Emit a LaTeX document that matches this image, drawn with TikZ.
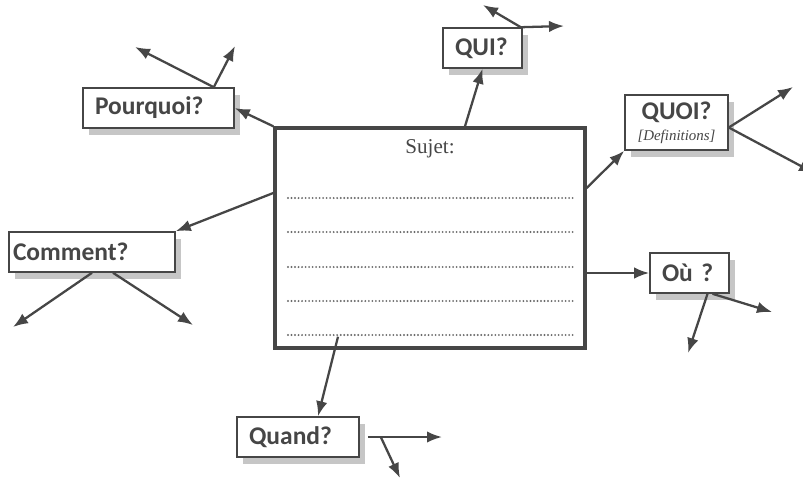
\documentclass[tikz,border=0pt]{standalone}
\usepackage{fontspec}
\setmainfont{Liberation Serif}
\newfontfamily\qfont{Carlito}
\usetikzlibrary{positioning,calc,shadows,arrows.meta}
\definecolor{encre}{HTML}{464646}
\newcommand{\qtxt}{\qfont\fontsize{14.5}{17}\selectfont\bfseries}

\begin{document}
\begin{tikzpicture}[x=0.02cm,y=-0.02cm,
    qbox/.style={draw=encre,line width=0.9pt,fill=white,text=encre,font=\qtxt,align=left,
      inner xsep=0.24cm,inner ysep=0pt,minimum height=0.8cm,
      drop shadow={shadow xshift=0.12cm,shadow yshift=-0.13cm,fill=gray!45,opacity=1}},
    fleche/.style={draw=encre,line width=1.3pt,-{Latex[length=3mm,width=2.3mm]}}]
  \useasboundingbox (0,0) rectangle (803,481);
  % le sujet au centre
  \node[draw=encre,line width=2pt,minimum width=6.2cm,minimum height=4.4cm,inner sep=0] (sujet) at (430,238) {};
  \node[text=encre,font=\fontsize{12}{14}\selectfont] (titre) at (430,149) {Sujet:};
  \foreach \y in {198,232,267,301,335}
    \draw[encre!80,line width=1.2pt,line cap=round,dash pattern=on 0pt off 2pt] (288,\y) -- (573,\y);
  % les questions
  \node[qbox,text width=2.54cm] (pourquoi) at (158.5,108) {Pourquoi?};
  \node[qbox,text width=1.10cm] (qui) at (482.5,48) {QUI?};
  \node[qbox,text width=1.58cm,align=center,minimum height=1.1cm] (quoi) at (676.5,122.5)
    {QUOI?\\[-5pt]{\normalfont\itshape\fontsize{8.5}{10}\selectfont[Definitions]}};
  \node[qbox,inner xsep=0.08cm,text width=3.16cm] (comment) at (92,252) {Comment?};
  \node[qbox,text width=1.10cm] (ou) at (689.5,273) {Où ?};
  \node[qbox,text width=1.96cm] (quand) at (298,437) {Quand?};
  % bouts libres
  \coordinate (p1) at (135,47); \coordinate (p2) at (235,46);
  \coordinate (q1) at (483,5);  \coordinate (q2) at (564,26);
  \coordinate (w1) at (793,87); \coordinate (w2) at (814,173);
  \coordinate (c1) at (13,327); \coordinate (c2) at (193,325);
  \coordinate (o1) at (688,353); \coordinate (o2) at (772,312);
  \coordinate (d1) at (442,437); \coordinate (d2) at (400,478);
  % fleches
  \draw[fleche] (sujet.north west) -- (pourquoi.east);
  \draw[fleche] ($(pourquoi.north east)+(-21,0)$) -- (p1);
  \draw[fleche] ($(pourquoi.north east)+(-21,0)$) -- (p2);
  \draw[fleche] ($(sujet.north)+(35,0)$) -- (qui.south);
  \draw[fleche] ($(qui.north east)+(-2,0)$) -- (q1);
  \draw[fleche] ($(qui.north east)+(-2,0)$) -- (q2);
  \draw[fleche] ($(sujet.east)+(0,-50)$) -- (quoi.south west);
  \draw[fleche] ($(quoi.east)+(0,5)$) -- (w1);
  \draw[fleche] ($(quoi.east)+(0,5)$) -- (w2);
  \draw[fleche] ($(sujet.west)+(0,-45)$) -- (comment.north east);
  \draw[fleche] (comment.south) -- (c1);
  \draw[fleche] ($(comment.south)+(21,0)$) -- (c2);
  \draw[fleche] ($(sujet.east)+(0,35)$) -- (ou.west);
  \draw[fleche] ($(ou.south)+(18,0)$) -- (o1);
  \draw[fleche] ($(ou.south)+(23,0)$) -- (o2);
  \draw[fleche] ($(sujet.south)+(-92,-13)$) -- ($(quand.north)+(20,0)$);
  \draw[fleche] ($(quand.east)+(8,0)$) -- (d1);
  \draw[fleche] ($(quand.east)+(21,0)$) -- (d2);
\end{tikzpicture}
\end{document}
